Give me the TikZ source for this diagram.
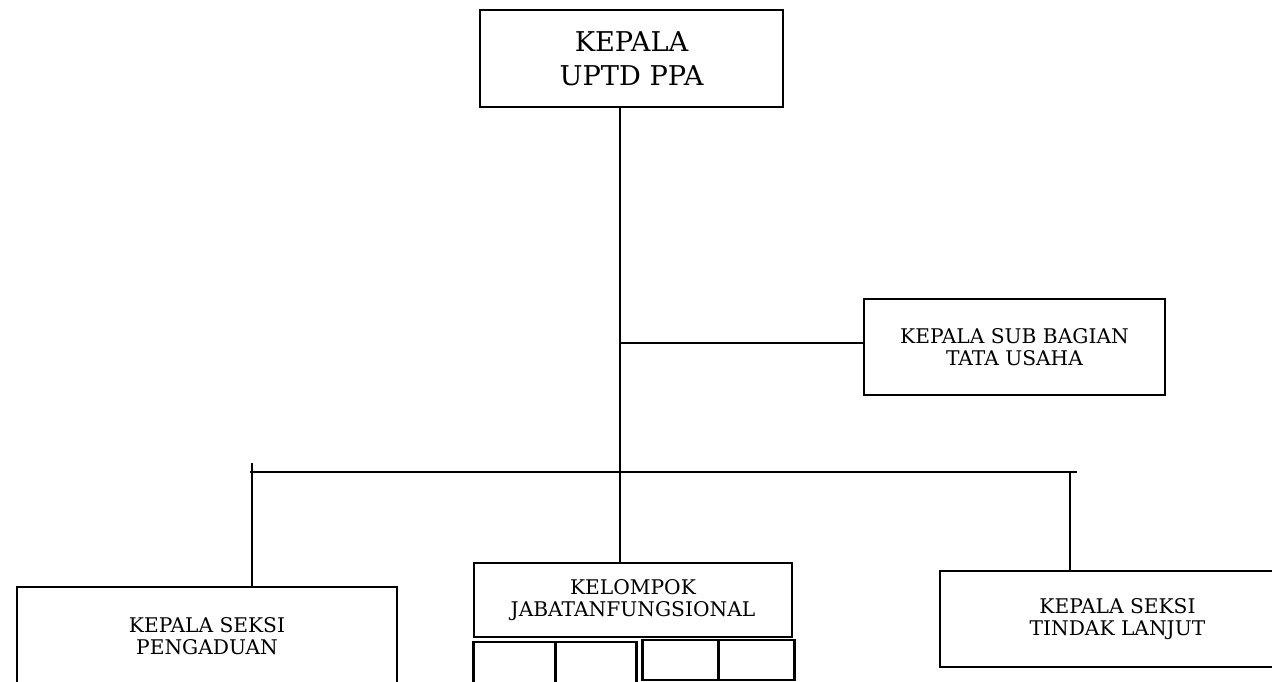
\documentclass[tikz,border=0pt]{standalone}
\usepackage{fontspec}
\setmainfont{DejaVu Serif}
\usetikzlibrary{positioning}

\begin{document}
\begin{tikzpicture}[x=.02cm,y=-.02cm,
 box/.style={draw,line width=1.5pt,inner sep=0pt,outer sep=0pt,align=center,
 font=\fontsize{11.5}{12.8}\selectfont},
 cell/.style={draw,line width=1.5pt,inner sep=0pt,outer sep=0pt},
 link/.style={line width=1.5pt}]
\fill[white] (0,0) rectangle (1272,682);
\useasboundingbox (0,0) rectangle (1272,682);
\node[box,minimum width=6.06cm,minimum height=1.94cm,
 font=\fontsize{15.5}{19.5}\selectfont] (kepala) at (631.5,58.5) {KEPALA\\UPTD PPA};
\node[box,minimum width=6.02cm,minimum height=1.92cm] (tatausaha) at (1014.5,347)
 {KEPALA SUB BAGIAN\\TATA USAHA};
\node[box,minimum width=7.6cm,minimum height=1.96cm] (pengaduan) at (207,636)
 {KEPALA SEKSI\\PENGADUAN};
\node[box,minimum width=6.36cm,minimum height=1.48cm] (fungsional) at (633,600)
 {KELOMPOK\\JABATANFUNGSIONAL};
\node[box,minimum width=7.1cm,minimum height=1.92cm] (tindak) at (1117.5,619)
 {KEPALA SEKSI\\TINDAK LANJUT};
% empty cells under the functional group
\foreach \i/\x in {1/514.5,2/596}
 \node[cell,minimum width=1.63cm,minimum height=.96cm] (jf\i) at (\x,666) {};
\foreach \i/\x in {3/680.5,4/756.5}
 \node[cell,minimum width=1.52cm,minimum height=.8cm] (jf\i) at (\x,660) {};
% lines
\coordinate (trunk) at (620,343);
\coordinate (busl) at (250,472);
\coordinate (busr) at (1077,472);
\coordinate (dropl) at (252,463);
\coordinate (dropr) at (1070,472);
\draw[link] (kepala.south -| trunk) -- (fungsional.north -| trunk);
\draw[link] (trunk) -- (tatausaha.west |- trunk);
\draw[link] (busl) -- (busr);
\foreach \d/\n in {dropl/pengaduan,dropr/tindak} \draw[link] (\d) -- (\n.north -| \d);
\end{tikzpicture}
\end{document}
